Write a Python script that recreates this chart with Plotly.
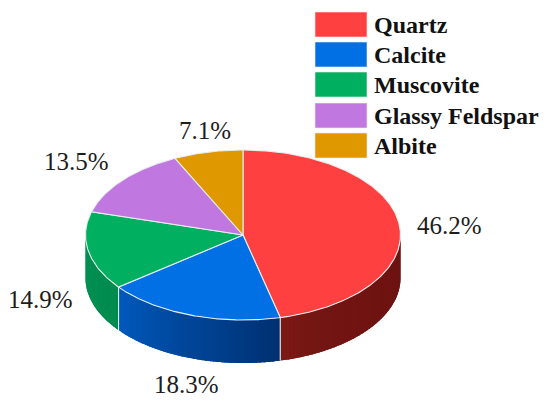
import math
import plotly.graph_objects as go

# --- data ---
minerals = ["Quartz", "Calcite", "Muscovite", "Glassy Feldspar", "Albite"]
shares = [46.2, 18.3, 14.9, 13.5, 7.1]

# --- style ---
top_colors = ["#ff4040", "#0070e4", "#00b060", "#c078e0", "#e09800"]
side_start = ["#821c18", "#0058ba", "#009152", "#6a4080", "#806000"]
side_end = ["#6c1210", "#002f70", "#008a4e", "#6a4080", "#806000"]
side_gamma = [0.25, 1, 1, 1, 1]
edge = "#e6eef0"
label_pos = [(449, 225), (186, 384), (40, 299), (76, 161), (205, 130)]
legend_tops = [12, 42, 72, 103, 133]

# --- projection of the tilted disc, in page pixels ---
CX, CY, RX, RY, DEPTH = 243, 235, 157.5, 85, 43


def pt(deg, dz=0.0):
    a = math.radians(deg)
    return CX + RX * math.sin(a), CY - RY * math.cos(a) + dz


def hexmix(c1, c2, t):
    a = [int(c1[i:i + 2], 16) for i in (1, 3, 5)]
    b = [int(c2[i:i + 2], 16) for i in (1, 3, 5)]
    return "#" + "".join(f"{round(x + (y - x) * t):02x}" for x, y in zip(a, b))


def arc(a0, a1, dz=0.0, step=1.0):
    n = max(2, int(abs(a1 - a0) / step) + 1)
    return [pt(a0 + (a1 - a0) * i / (n - 1), dz) for i in range(n)]


fig = go.Figure()


def poly(points, fill, line=None, width=0):
    fig.add_trace(go.Scatter(
        x=[p[0] for p in points], y=[p[1] for p in points],
        mode="lines" if line else "none", fill="toself", fillcolor=fill,
        line=dict(color=line or fill, width=width),
        hoverinfo="skip", showlegend=False))


# slice boundaries, clockwise from 12 o'clock
total = sum(shares)
bounds = [0.0]
for v in shares:
    bounds.append(bounds[-1] + 360 * v / total)

# visible wall
for i in range(len(shares)):
    lo, hi = max(bounds[i], 90), min(bounds[i + 1], 270)
    if hi <= lo:
        continue
    strips = max(2, int((hi - lo) / 1.5))
    for s in range(strips):
        a1 = lo + (hi - lo) * s / strips
        a0 = lo + (hi - lo) * (s + 1) / strips
        # each strip runs on under the next one so no seams show
        start = lo if s == 0 else max(lo, a1 - 2.0)
        t = ((strips - s - 0.5) / strips) ** side_gamma[i]
        col = hexmix(side_start[i], side_end[i], t)
        ring = arc(start, a0, 0, 0.5) + arc(a0, start, DEPTH, 0.5)
        poly(ring + ring[:1], col)

# light seams between the wall's slices
for b in bounds:
    if 90 < b < 270:
        p, q = pt(b), pt(b, DEPTH)
        fig.add_trace(go.Scatter(x=[p[0], q[0]], y=[p[1], q[1]], mode="lines",
                                 line=dict(color=edge, width=1.1),
                                 hoverinfo="skip", showlegend=False))

# top face
for i in range(len(shares)):
    ring = [(CX, CY)] + arc(bounds[i], bounds[i + 1], 0, 0.5) + [(CX, CY)]
    poly(ring, top_colors[i], edge, 1.1)

# percentage labels
for v, (x, y) in zip(shares, label_pos):
    fig.add_annotation(x=x, y=y, text=f"{v:.1f}%", showarrow=False,
                       font=dict(family="Liberation Serif", size=25, color="#1c1c1c"),
                       xanchor="center", yanchor="middle")

# legend
for name, col, top in zip(minerals, top_colors, legend_tops):
    fig.add_shape(type="rect", x0=315, x1=367, y0=top, y1=top + 25,
                  fillcolor=col, line=dict(color="#fbe9e4", width=0.6), xref="x", yref="y")
    fig.add_annotation(x=372, y=top + 12.5, text=f"<b>{name}</b>", showarrow=False,
                       font=dict(family="Liberation Serif", size=24, color="#111111"),
                       xanchor="left", yanchor="middle")

fig.update_layout(
    width=550, height=403, autosize=False,
    margin=dict(l=0, r=0, t=0, b=0),
    paper_bgcolor="white", plot_bgcolor="white",
    xaxis=dict(range=[0, 550], visible=False, fixedrange=True),
    yaxis=dict(range=[403, 0], visible=False, fixedrange=True),
    showlegend=False,
)
fig.write_html("out.html", config=dict(displayModeBar=False),
               post_script="document.body.style.margin='0';document.documentElement.style.overflow='hidden';")
